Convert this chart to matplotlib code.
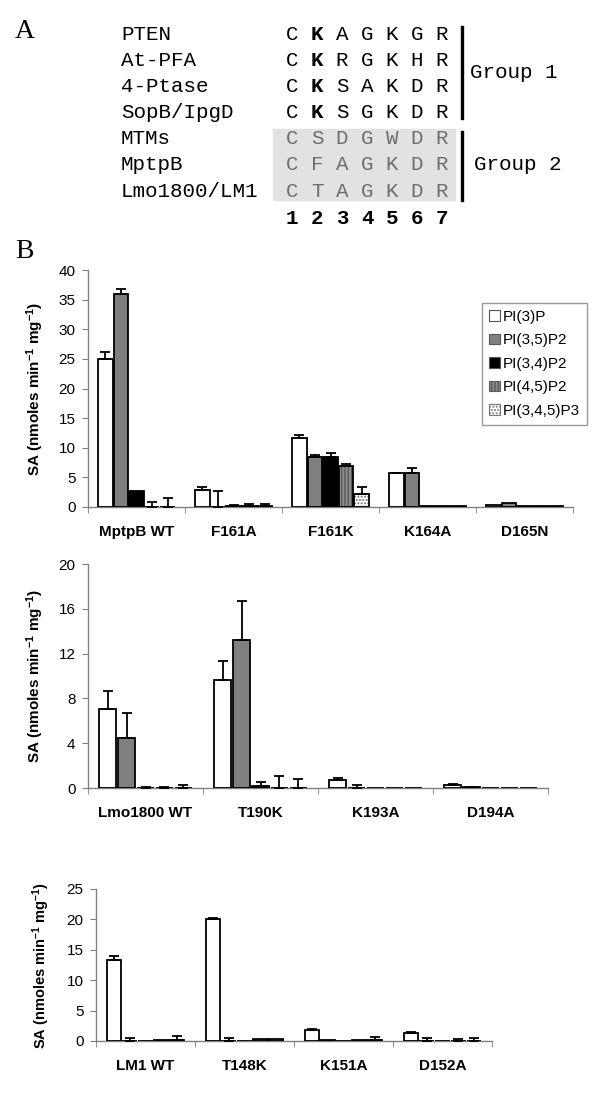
import numpy as np
import matplotlib
matplotlib.use("Agg")
import matplotlib.pyplot as plt
from matplotlib.patches import Rectangle, Patch
from matplotlib.lines import Line2D

plt.rcParams['font.family'] = ['Liberation Sans', 'DejaVu Sans']
plt.rcParams['mathtext.default'] = 'regular'

W, H = 600, 1093

# panel A: alignment
names = ["PTEN", "At-PFA", "4-Ptase", "SopB/IpgD", "MTMs", "MptpB", "Lmo1800/LM1"]
seqs = ["CKAGKGR", "CKRGKHR", "CKSAKDR", "CKSGKDR", "CSDGWDR", "CFAGKDR", "CTAGKDR"]
positions = ["1", "2", "3", "4", "5", "6", "7"]

# panel B data, series order
series = ["PI(3)P", "PI(3,5)P2", "PI(3,4)P2", "PI(4,5)P2", "PI(3,4,5)P3"]

cats1 = ["MptpB WT", "F161A", "F161K", "K164A", "D165N"]
pi3p_1 = [25.0, 2.9, 11.7, 5.7, 0.4]
pi35_1 = [36.0, 0.0, 8.5, 5.8, 0.6]
pi34_1 = [2.7, 0.15, 8.5, 0.2, 0.1]
pi45_1 = [0.0, 0.15, 7.0, 0.2, 0.1]
pi345_1 = [0.0, 0.15, 2.2, 0.2, 0.1]
err3p_1 = [1.2, 0.45, 0.4, 0.1, 0.0]
err35_1 = [0.8, 2.75, 0.35, 0.8, 0.0]
err34_1 = [0.0, 0.2, 0.6, 0.0, 0.0]
err45_1 = [0.8, 0.3, 0.2, 0.0, 0.0]
err345_1 = [1.5, 0.3, 1.2, 0.0, 0.0]

cats2 = ["Lmo1800 WT", "T190K", "K193A", "D194A"]
pi3p_2 = [7.05, 9.6, 0.7, 0.25]
pi35_2 = [4.5, 13.2, 0.0, 0.05]
pi34_2 = [0.0, 0.2, 0.0, 0.0]
pi45_2 = [0.0, 0.0, 0.0, 0.0]
pi345_2 = [0.0, 0.0, 0.0, 0.0]
err3p_2 = [1.6, 1.7, 0.2, 0.15]
err35_2 = [2.2, 3.5, 0.3, 0.05]
err34_2 = [0.1, 0.3, 0.0, 0.0]
err45_2 = [0.05, 1.1, 0.0, 0.0]
err345_2 = [0.25, 0.8, 0.0, 0.0]

cats3 = ["LM1 WT", "T148K", "K151A", "D152A"]
pi3p_3 = [13.3, 20.1, 1.8, 1.35]
pi35_3 = [0.0, 0.0, 0.2, 0.0]
pi34_3 = [0.0, 0.0, 0.0, 0.0]
pi45_3 = [0.2, 0.3, 0.2, 0.0]
pi345_3 = [0.1, 0.3, 0.1, 0.0]
err3p_3 = [0.6, 0.1, 0.1, 0.15]
err35_3 = [0.5, 0.5, 0.0, 0.5]
err34_3 = [0.0, 0.0, 0.0, 0.0]
err45_3 = [0.0, 0.0, 0.0, 0.4]
err345_3 = [0.8, 0.0, 0.6, 0.5]

# (facecolor, hatch, hatch colour)
styles = [("white", None, None), ("#7f7f7f", None, None), ("black", None, None),
          ("#8c8c8c", "|||||", "#5a5a5a"), ("white", ".....", "#777777")]


def fx(x):
    return x / W


def fy(y):
    return 1 - y / H


fig = plt.figure(figsize=(6.0, 10.93), dpi=100)

# ---- panel A ----
fig.text(fx(15), fy(32), "A", family="Liberation Serif", fontsize=20, va="center")
fig.text(fx(15), fy(251), "B", family="Liberation Serif", fontsize=20, va="center")

fig.patches.append(Rectangle((fx(273), fy(200)), (455 - 273) / W, 71 / H,
                             transform=fig.transFigure, color="#e2e2e2", zorder=0))

row_y = [35, 61, 87, 113, 139, 165, 191]
col_x = [292, 317, 342, 367, 392, 417, 442]
mono = "Liberation Mono"
for r, (nm, sq) in enumerate(zip(names, seqs)):
    fig.text(fx(121), fy(row_y[r]), nm, family=mono, fontsize=15, va="center")
    grp2 = r >= 4
    for c, ch in enumerate(sq):
        bold = (c == 1 and not grp2)
        fig.text(fx(col_x[c]), fy(row_y[r]), ch, family=mono, fontsize=15,
                 ha="center", va="center",
                 color="#6e6e6e" if grp2 else "black",
                 weight="bold" if bold else "normal")
for c, p in enumerate(positions):
    fig.text(fx(col_x[c]), fy(218), p, family=mono, fontsize=15, weight="bold",
             ha="center", va="center")

fig.lines.append(Line2D([fx(462), fx(462)], [fy(27), fy(118)], color="black",
                        lw=2.4, transform=fig.transFigure))
fig.lines.append(Line2D([fx(462), fx(462)], [fy(132), fy(200)], color="black",
                        lw=2.4, transform=fig.transFigure))
fig.text(fx(470), fy(72), "Group 1", family=mono, fontsize=15, va="center")
fig.text(fx(474), fy(165), "Group 2", family=mono, fontsize=15, va="center")


# ---- panel B ----
def draw(ax, cats, vals, errs, ymax, yticks, step, width, label_x, ylab_size):
    x = np.arange(len(cats))
    for i, (v, e) in enumerate(zip(vals, errs)):
        v = np.array(v)
        e = np.array(e)
        xs = x + (i - 2) * step
        face, hatch, hcol = styles[i]
        if hatch:
            ax.bar(xs, v, width, color=face, hatch=hatch, edgecolor=hcol, lw=0, zorder=2)
            ax.bar(xs, v, width, fill=False, edgecolor="black", lw=1.3, zorder=3)
        else:
            ax.bar(xs, v, width, color=face, edgecolor="black", lw=1.3, zorder=3)
        m = e > 0
        if m.any():
            ax.errorbar(xs[m], v[m], yerr=[np.zeros(m.sum()), e[m]], fmt="none",
                        ecolor="black", elinewidth=1.3, capsize=3.5, capthick=1.3, zorder=4)
    ax.set_xlim(-0.5, len(cats) - 0.5)
    ax.set_ylim(0, ymax)
    ax.set_yticks(yticks)
    ax.set_xticks(x)
    ax.set_xticklabels(cats, fontweight="bold", fontsize=11)
    ax.set_xticks(np.arange(len(cats) + 1) - 0.5, minor=True)
    ax.tick_params(axis="x", which="major", length=0, pad=13)
    ax.tick_params(axis="x", which="minor", length=4, color="#808080", direction="out")
    ax.tick_params(axis="y", length=4, color="#808080", labelsize=11, pad=5)
    for s in ["top", "right"]:
        ax.spines[s].set_visible(False)
    for s in ["left", "bottom"]:
        ax.spines[s].set_color("#808080")
        ax.spines[s].set_linewidth(1.0)
    ax.set_ylabel("SA (nmoles min$^{-1}$ mg$^{-1}$)", fontweight="bold", fontsize=ylab_size)
    ax.yaxis.set_label_coords(label_x, 0.5)


def axes_px(left, right, top, bottom):
    return fig.add_axes([fx(left), fy(bottom), (right - left) / W, (bottom - top) / H])


ax1 = axes_px(88, 573, 270, 507)
draw(ax1, cats1, [pi3p_1, pi35_1, pi34_1, pi45_1, pi345_1],
     [err3p_1, err35_1, err34_1, err45_1, err345_1],
     40, [0, 5, 10, 15, 20, 25, 30, 35, 40], 0.16, 0.15, (46 - 88) / 485, 11)

ax2 = axes_px(88, 548, 564, 788)
draw(ax2, cats2, [pi3p_2, pi35_2, pi34_2, pi45_2, pi345_2],
     [err3p_2, err35_2, err34_2, err45_2, err345_2],
     20, [0, 4, 8, 12, 16, 20], 0.165, 0.15, (46 - 88) / 460, 11)

ax3 = axes_px(96, 492, 889, 1041)
draw(ax3, cats3, [pi3p_3, pi35_3, pi34_3, pi45_3, pi345_3],
     [err3p_3, err35_3, err34_3, err45_3, err345_3],
     25, [0, 5, 10, 15, 20, 25], 0.16, 0.145, (52 - 96) / 396, 10.5)

handles = []
for (face, hatch, hcol), name in zip(styles, series):
    handles.append(Patch(facecolor=face, hatch=hatch,
                         edgecolor=hcol if hatch else "#555555", lw=0.8, label=name))
leg = fig.legend(handles=handles, loc="upper left", bbox_to_anchor=(fx(482), fy(303)),
                 bbox_transform=fig.transFigure, fontsize=11, frameon=True, fancybox=False,
                 handlelength=0.7, handleheight=0.7, handletextpad=0.2, labelspacing=0.62,
                 borderpad=0.45, borderaxespad=0)
leg.get_frame().set_edgecolor("#808080")
leg.get_frame().set_linewidth(1.0)

fig.savefig("out.png", dpi=100)
